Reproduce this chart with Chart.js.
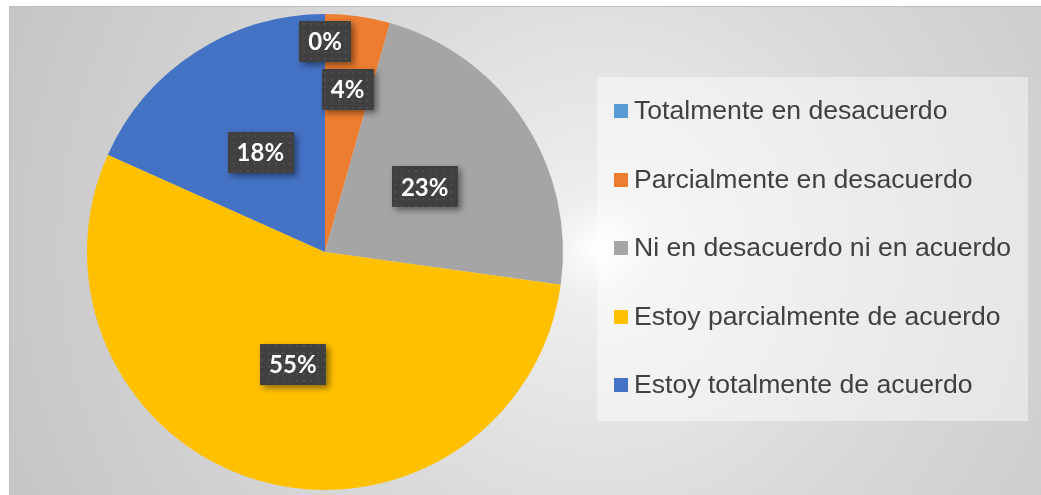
<!DOCTYPE html>
<html>
<head>
<meta charset="utf-8">
<script src="https://cdn.jsdelivr.net/npm/chart.js@4"></script>
<style>
  body { margin: 0; background: #ffffff; }
  #pie { display: block; }
</style>
</head>
<body>
<canvas id="pie" width="1041" height="495"></canvas>
<script>
// Survey answers (share of respondents, %)
const categories = [
    "Totalmente en desacuerdo",
    "Parcialmente en desacuerdo",
    "Ni en desacuerdo ni en acuerdo",
    "Estoy parcialmente de acuerdo",
    "Estoy totalmente de acuerdo"
];
const shares = [0, 4.4, 22.8, 54.5, 18.3];
const sliceColors = ["#5B9BD5", "#ED7D31", "#A5A5A5", "#FFC000", "#4472C4"];

// how far out each data label sits (fraction of radius)
const labelRadius = [0.885, 0.69, 0.5, 0.49, 0.5];

// dotted dark fill used behind the data labels
function makeDotPattern(ctx) {
    const c = document.createElement("canvas");
    c.width = 7; c.height = 7;
    const g = c.getContext("2d");
    g.fillStyle = "#404040";
    g.fillRect(0, 0, 7, 7);
    g.fillStyle = "#4e4e4e";
    g.fillRect(2, 2, 2, 2);
    return ctx.createPattern(c, "repeat");
}

const backdrop = {
    id: "backdrop",
    beforeDraw(chart) {
        const ctx = chart.ctx;
        ctx.save();
        ctx.fillStyle = "#ffffff";
        ctx.fillRect(0, 0, chart.width, chart.height);
        const grad = ctx.createRadialGradient(600, 250, 0, 600, 250, 660);
        grad.addColorStop(0, "#ffffff");
        grad.addColorStop(0.08, "#eeeeee");
        grad.addColorStop(0.45, "#dadada");
        grad.addColorStop(1, "#c4c4c4");
        ctx.fillStyle = grad;
        ctx.fillRect(9, 6, chart.width - 9, chart.height - 6);
        ctx.strokeStyle = "#bdbdbd";
        ctx.lineWidth = 1;
        ctx.beginPath();
        ctx.moveTo(9.5, chart.height);
        ctx.lineTo(9.5, 6.5);
        ctx.lineTo(chart.width, 6.5);
        ctx.stroke();
        ctx.restore();
    }
};

const sideLegend = {
    id: "sideLegend",
    afterDraw(chart) {
        const ctx = chart.ctx;
        const ds = chart.data.datasets[0];
        ctx.save();
        ctx.fillStyle = "rgba(255,255,255,0.45)";
        ctx.fillRect(597, 77, 431, 344);
        ctx.font = '26.6px "Liberation Sans", Arial, sans-serif';
        ctx.textBaseline = "middle";
        chart.data.labels.forEach((lab, i) => {
            const y = 111 + i * 68.5;
            ctx.fillStyle = ds.backgroundColor[i];
            ctx.fillRect(614, Math.round(y - 7), 14, 14);
            ctx.fillStyle = "#404040";
            ctx.fillText(lab, 634, y + 1);
        });
        ctx.restore();
    }
};

const boxLabels = {
    id: "boxLabels",
    afterDatasetsDraw(chart) {
        const ctx = chart.ctx;
        const meta = chart.getDatasetMeta(0);
        const vals = chart.data.datasets[0].data;
        const total = vals.reduce((a, b) => a + b, 0);
        const pattern = makeDotPattern(ctx);
        ctx.save();
        ctx.font = 'bold 24px Lato, "Open Sans", sans-serif';
        ctx.textAlign = "center";
        ctx.textBaseline = "middle";
        meta.data.forEach((arc, i) => {
            const p = arc.getProps(["x", "y", "startAngle", "endAngle", "outerRadius"], true);
            const mid = (p.startAngle + p.endAngle) / 2;
            const r = p.outerRadius * labelRadius[i];
            const x = p.x + Math.cos(mid) * r;
            const y = p.y + Math.sin(mid) * r;
            const txt = Math.round(vals[i] / total * 100) + "%";
            const w = ctx.measureText(txt).width + 18;
            const h = 41;
            ctx.save();
            ctx.shadowColor = "rgba(0,0,0,0.45)";
            ctx.shadowBlur = 6;
            ctx.shadowOffsetX = 3;
            ctx.shadowOffsetY = 3;
            ctx.fillStyle = pattern;
            ctx.fillRect(Math.round(x - w / 2), Math.round(y - h / 2), Math.round(w), h);
            ctx.restore();
            ctx.fillStyle = "#ffffff";
            ctx.fillText(txt, x, y + 1);
        });
        ctx.restore();
    }
};

new Chart(document.getElementById("pie"), {
    type: "pie",
    data: {
        labels: categories,
        datasets: [{
            data: shares,
            backgroundColor: sliceColors,
            borderWidth: 0,
            hoverOffset: 0,
            offset: 0
        }]
    },
    options: {
        responsive: false,
        animation: false,
        layout: { padding: { left: 87, right: 478, top: 14, bottom: 5 } },
        plugins: {
            legend: { display: false },
            tooltip: { enabled: false }
        }
    },
    plugins: [backdrop, boxLabels, sideLegend]
});
</script>
</body>
</html>
